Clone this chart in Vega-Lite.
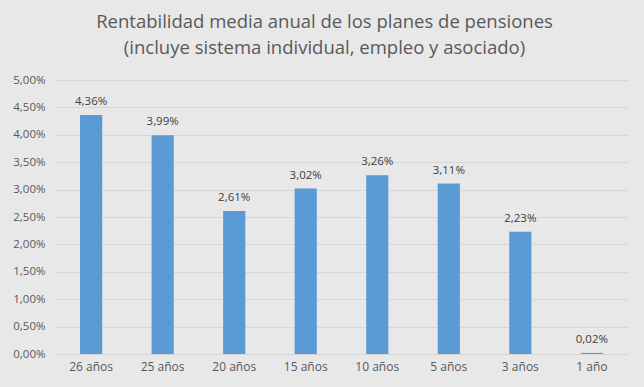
{
  "$schema": "https://vega.github.io/schema/vega-lite/v6.json",
  "autosize": "none",
  "width": 573,
  "height": 274,
  "padding": {"left": 55, "top": 80, "right": 16, "bottom": 33},
  "background": "#e8e8e8",
  "title": {
    "text": ["Rentabilidad media anual de los planes de pensiones", "(incluye sistema individual, empleo y asociado)"],
    "anchor": "middle",
    "dx": -17,
    "offset": 17,
    "fontSize": 18.5,
    "font": "Open Sans",
    "fontWeight": "normal",
    "color": "#595959",
    "lineHeight": 26
  },
  "config": {
    "locale": {"number": {"decimal": ",", "thousands": ".", "grouping": [3], "currency": ["", " €"]}},
    "view": {"stroke": null},
    "font": "Open Sans"
  },
  "data": {
    "values": [
      {"periodo": "26 años", "rent": 0.0436},
      {"periodo": "25 años", "rent": 0.0399},
      {"periodo": "20 años", "rent": 0.0261},
      {"periodo": "15 años", "rent": 0.0302},
      {"periodo": "10 años", "rent": 0.0326},
      {"periodo": "5 años", "rent": 0.0311},
      {"periodo": "3 años", "rent": 0.0223},
      {"periodo": "1 año", "rent": 0.0002}
    ]
  },
  "encoding": {
    "x": {
      "field": "periodo", "type": "nominal", "sort": null,
      "scale": {"paddingInner": 0.69, "paddingOuter": 0.35},
      "axis": {"title": null, "labelAngle": 0, "ticks": false, "domain": false, "labelFontSize": 12, "labelColor": "#595959", "labelPadding": 7}
    },
    "y": {
      "field": "rent", "type": "quantitative",
      "scale": {"domain": [0, 0.05]},
      "axis": {"title": null, "format": ".2%", "values": [0, 0.005, 0.01, 0.015, 0.02, 0.025, 0.03, 0.035, 0.04, 0.045, 0.05], "ticks": false, "domain": false, "gridColor": "#d6d6d6", "labelFontSize": 11.5, "labelColor": "#595959", "labelPadding": 10}
    }
  },
  "layer": [
    {"mark": {"type": "bar", "color": "#5b9bd5"}},
    {"mark": {"type": "text", "dy": -13, "fontSize": 11.5, "color": "#404040"}, "encoding": {"text": {"field": "rent", "type": "quantitative", "format": ".2%"}}}
  ]
}
